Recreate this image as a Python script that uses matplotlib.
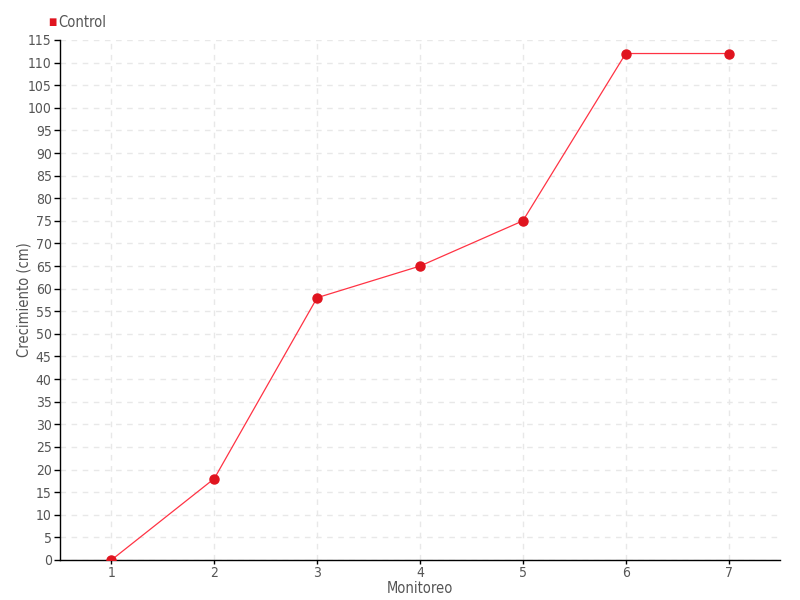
import matplotlib
matplotlib.use("Agg")
import matplotlib.pyplot as plt
import numpy as np

monitoreo = [1, 2, 3, 4, 5, 6, 7]
crecimiento = [0, 18, 58, 65, 75, 112, 112]
serie = "Control"
y_ticks = list(range(0, 116, 5))

plt.rcParams['font.family'] = ['DejaVu Sans']
plt.rcParams['font.stretch'] = 'condensed'
txt = "#555555"

fig = plt.figure(figsize=(8, 6), dpi=100)
ax = fig.add_axes([0.075, 0.0667, 0.9, 0.8667])

ax.plot(monitoreo, crecimiento, color="#ff3344", lw=0.9, zorder=3)
ax.plot(monitoreo, crecimiento, ls="none", marker="o", ms=6.5,
        color="#e0141f", zorder=4)

ax.set_xlim(0.5, 7.5)
ax.set_ylim(0, 115)
ax.set_xticks(monitoreo)
ax.set_yticks(y_ticks)
ax.grid(True, color="#e8e8e8", ls=(0, (4, 4)), lw=1)
ax.set_axisbelow(True)

for s in ["top", "right"]:
    ax.spines[s].set_visible(False)
for s in ["left", "bottom"]:
    ax.spines[s].set_color("black")
    ax.spines[s].set_linewidth(1)

ax.tick_params(axis="both", colors="black", labelcolor=txt, labelsize=10,
               length=4, width=1, direction="out", pad=2)
ax.tick_params(axis="x", length=3, pad=1)

ax.set_xlabel("Monitoreo", color=txt, fontsize=10.5)
ax.set_ylabel("Crecimiento (cm)", color=txt, fontsize=10.5)
ax.xaxis.set_label_coords(0.5, -0.054)
ax.yaxis.set_label_coords(-0.05, 0.5)
ax.xaxis.label.set_va("center")
ax.yaxis.label.set_va("center")

fig.text(0.0655, 0.963, "\u25a0", color="#e0141f", fontsize=7,
         va="center", ha="center")
fig.text(0.073, 0.963, serie, color=txt, fontsize=10.5, va="center", ha="left")

fig.savefig("out.png", dpi=100)
